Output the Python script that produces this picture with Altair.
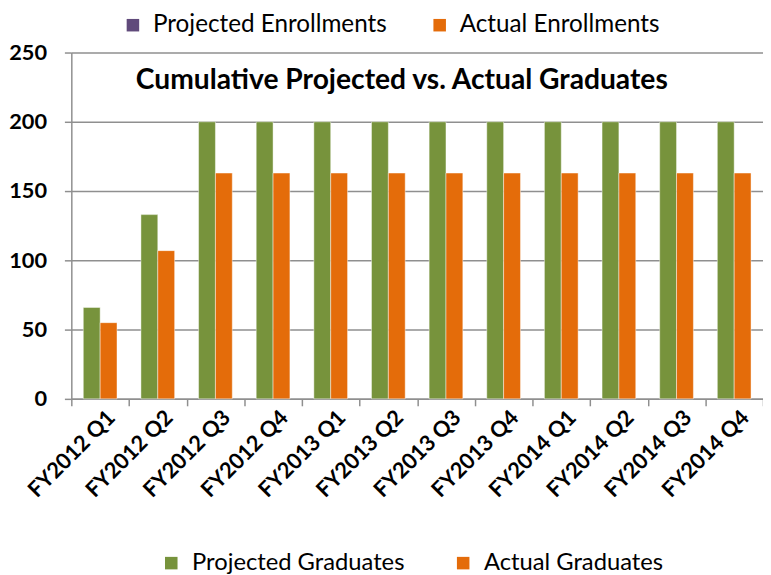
import altair as alt
import pandas as pd

categories = ["FY2012 Q1", "FY2012 Q2", "FY2012 Q3", "FY2012 Q4",
              "FY2013 Q1", "FY2013 Q2", "FY2013 Q3", "FY2013 Q4",
              "FY2014 Q1", "FY2014 Q2", "FY2014 Q3", "FY2014 Q4"]
projected_graduates = [66, 133, 200, 200, 200, 200, 200, 200, 200, 200, 200, 200]
actual_graduates = [55, 107, 163, 163, 163, 163, 163, 163, 163, 163, 163, 163]
series_names = ["Projected Graduates", "Actual Graduates"]
series_colors = ["#77933C", "#E46C0A"]
enrollment_series = ["Projected Enrollments", "Actual Enrollments"]
enrollment_colors = ["#604A7B", "#E46C0A"]
title_text = "Cumulative Projected vs. Actual Graduates"
y_ticks = [0, 50, 100, 150, 200, 250]

rows = []
for c, p, a in zip(categories, projected_graduates, actual_graduates):
    rows.append({"quarter": c, "series": series_names[0], "value": p})
    rows.append({"quarter": c, "series": series_names[1], "value": a})
df = pd.DataFrame(rows)

FONT = "Lato"
GRAY = "#8f8f8f"

bars = alt.Chart(df).mark_bar(stroke="white", strokeOpacity=0.45, strokeWidth=1).encode(
    x=alt.X("quarter:N", sort=categories, title=None,
            scale=alt.Scale(paddingInner=0, paddingOuter=0),
            axis=alt.Axis(labelAngle=315, labelAlign="right", labelBaseline="middle",
                          labelFont=FONT, labelFontSize=22, labelFontWeight="bold",
                          labelColor="black", labelPadding=8, labelOffset=11,
                          labelOverlap=False,
                          tickBand="extent", tickSize=7, tickColor=GRAY, tickWidth=1.5,
                          domainColor=GRAY, domainWidth=1.5, grid=False)),
    xOffset=alt.XOffset("series:N", sort=series_names,
                        scale=alt.Scale(paddingOuter=0.71, paddingInner=0)),
    y=alt.Y("value:Q", title=None,
            scale=alt.Scale(domain=[0, 250], nice=False),
            axis=alt.Axis(values=y_ticks, labelFont=FONT, labelFontSize=22,
                          labelFontWeight="bold", labelColor="black", labelPadding=18,
                          tickSize=7, tickColor=GRAY, tickWidth=1.5,
                          domainColor=GRAY, domainWidth=1.5,
                          grid=True, gridColor=GRAY, gridWidth=1.5)),
    color=alt.Color("series:N",
                    scale=alt.Scale(domain=series_names, range=series_colors),
                    legend=alt.Legend(title=None, orient="none", legendX=89, legendY=504,
                                      direction="horizontal", columns=2,
                                      symbolType="square", symbolSize=160,
                                      symbolStrokeWidth=0, labelLimit=0,
                                      labelFont=FONT, labelFontSize=24, labelColor="black",
                                      labelOffset=9, columnPadding=47)),
)

enroll = alt.Chart(pd.DataFrame({"series": enrollment_series})).mark_square(opacity=0).encode(
    color=alt.Color("series:N",
                    scale=alt.Scale(domain=enrollment_series, range=enrollment_colors),
                    legend=alt.Legend(title=None, orient="none", legendX=50, legendY=-40,
                                      direction="horizontal", columns=2,
                                      symbolType="square", symbolSize=160,
                                      symbolOpacity=1, symbolStrokeWidth=0, labelLimit=0,
                                      labelFont=FONT, labelFontSize=24.5, labelColor="black",
                                      labelOffset=8, columnPadding=41)),
)

title = alt.Chart(pd.DataFrame({"t": [title_text]})).mark_text(
    font=FONT, fontSize=28.5, fontWeight="bold", color="black"
).encode(text="t:N", x=alt.value(334), y=alt.value(28))

chart = alt.layer(bars, enroll, title).resolve_scale(color="independent").properties(
    width=699, height=350,
    padding={"left": 64, "top": 42, "right": 0, "bottom": 175},
    autosize=alt.AutoSizeParams(type="none"),
).configure_view(stroke=None)

chart.save("out.html", embed_options={"renderer": "svg", "actions": False})
